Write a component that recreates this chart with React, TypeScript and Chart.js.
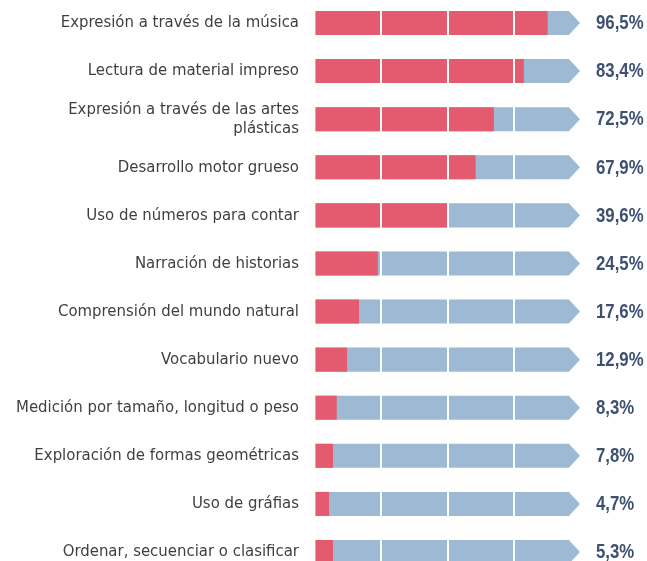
import React, { useEffect, useRef } from "react";
import { Chart, registerables } from "chart.js";

Chart.register(...registerables);

const categories: (string | string[])[] = [
  "Expresión a través de la música",
  "Lectura de material impreso",
  ["Expresión a través de las artes", "plásticas"],
  "Desarrollo motor grueso",
  "Uso de números para contar",
  "Narración de historias",
  "Comprensión del mundo natural",
  "Vocabulario nuevo",
  "Medición por tamaño, longitud o peso",
  "Exploración de formas geométricas",
  "Uso de gráfias",
  "Ordenar, secuenciar o clasificar",
];

// bar lengths as drawn in the picture (0–100 track)
const barValues = [87.8, 78.8, 67.5, 60.6, 50.2, 23.7, 16.6, 12.1, 8.2, 6.8, 5.3, 6.8];

// printed value labels
const valueLabels = [
  "96,5%", "83,4%", "72,5%", "67,9%", "39,6%", "24,5%",
  "17,6%", "12,9%", "8,3%", "7,8%", "4,7%", "5,3%",
];

const gridTicks = [25, 50, 75];

const RED = "#E45A6E";
const BLUE = "#9DB9D4";
const LABEL_COLOR = "#3F3F3F";
const VALUE_COLOR = "#3F5070";
const TRACK_MAX = 100;
const ARROW_BODY_END = 95.8;

const arrowPlugin = {
  id: "arrowTrack",
  beforeDatasetsDraw(chart: any) {
    const { ctx, scales } = chart;
    const xs = scales.x;
    const ys = scales.y;
    const catH = ys.height / categories.length;
    const half = catH * 0.5 * 0.5;
    const x0 = xs.getPixelForValue(0);
    const xb = xs.getPixelForValue(ARROW_BODY_END);
    const xt = xs.getPixelForValue(TRACK_MAX);
    ctx.save();
    ctx.fillStyle = BLUE;
    categories.forEach((_, i) => {
      const y = ys.getPixelForValue(i);
      ctx.beginPath();
      ctx.moveTo(x0, y - half);
      ctx.lineTo(xb, y - half);
      ctx.lineTo(xt, y);
      ctx.lineTo(xb, y + half);
      ctx.lineTo(x0, y + half);
      ctx.closePath();
      ctx.fill();
    });
    ctx.restore();
  },
};

const valueLabelPlugin = {
  id: "valueLabels",
  afterDraw(chart: any) {
    const { ctx, scales } = chart;
    const xs = scales.x;
    const ys = scales.y;
    const sx = 0.8;
    valueLabels.forEach((t, i) => {
      const y = ys.getPixelForValue(i);
      ctx.save();
      ctx.fillStyle = VALUE_COLOR;
      ctx.font = 'bold 21px "Liberation Sans", Arial, sans-serif';
      ctx.textAlign = "left";
      ctx.textBaseline = "middle";
      ctx.translate(xs.right + 16, y + 0.5);
      ctx.scale(sx, 1);
      ctx.fillText(t, 0, 0);
      ctx.restore();
    });
  },
};

export default function App() {
  const ref = useRef<HTMLCanvasElement | null>(null);

  useEffect(() => {
    if (!ref.current) return;
    const chart = new Chart(ref.current, {
      type: "bar",
      data: {
        labels: categories as any,
        datasets: [
          {
            data: barValues,
            backgroundColor: RED,
            borderWidth: 0,
            barPercentage: 0.5,
            categoryPercentage: 1,
          },
        ],
      },
      options: {
        indexAxis: "y",
        responsive: false,
        animation: false,
        events: [],
        layout: { padding: { left: 0, right: 67, top: 18.95, bottom: 23.95 } },
        plugins: {
          legend: { display: false },
          tooltip: { enabled: false },
          title: { display: false },
        },
        scales: {
          x: {
            min: 0,
            max: TRACK_MAX,
            ticks: { display: false, stepSize: 25 },
            border: { display: false },
            grid: {
              z: 1,
              drawTicks: false,
              lineWidth: 2,
              color: (c: any) =>
                c.tick && gridTicks.includes(c.tick.value) ? "#FFFFFF" : "rgba(0,0,0,0)",
            },
          },
          y: {
            grid: { display: false, drawTicks: false },
            border: { display: false },
            ticks: {
              color: LABEL_COLOR,
              padding: 16,
              font: { family: '"DejaVu Sans Condensed", "DejaVu Sans", sans-serif', size: 16.6, lineHeight: 1.2 },
            },
            afterFit: (s: any) => {
              s.width = 315;
              s.paddingTop = 0;
              s.paddingBottom = 0;
            },
          },
        },
      },
      plugins: [arrowPlugin, valueLabelPlugin],
    });
    return () => chart.destroy();
  }, []);

  return (
    <div style={{ position: "fixed", left: 0, top: 0, width: 647, height: 561, overflow: "hidden", background: "#fff" }}>
      <canvas
        ref={ref}
        width={647}
        height={620}
        style={{ position: "absolute", left: 0, top: -20, width: 647, height: 620, display: "block" }}
      />
    </div>
  );
}
